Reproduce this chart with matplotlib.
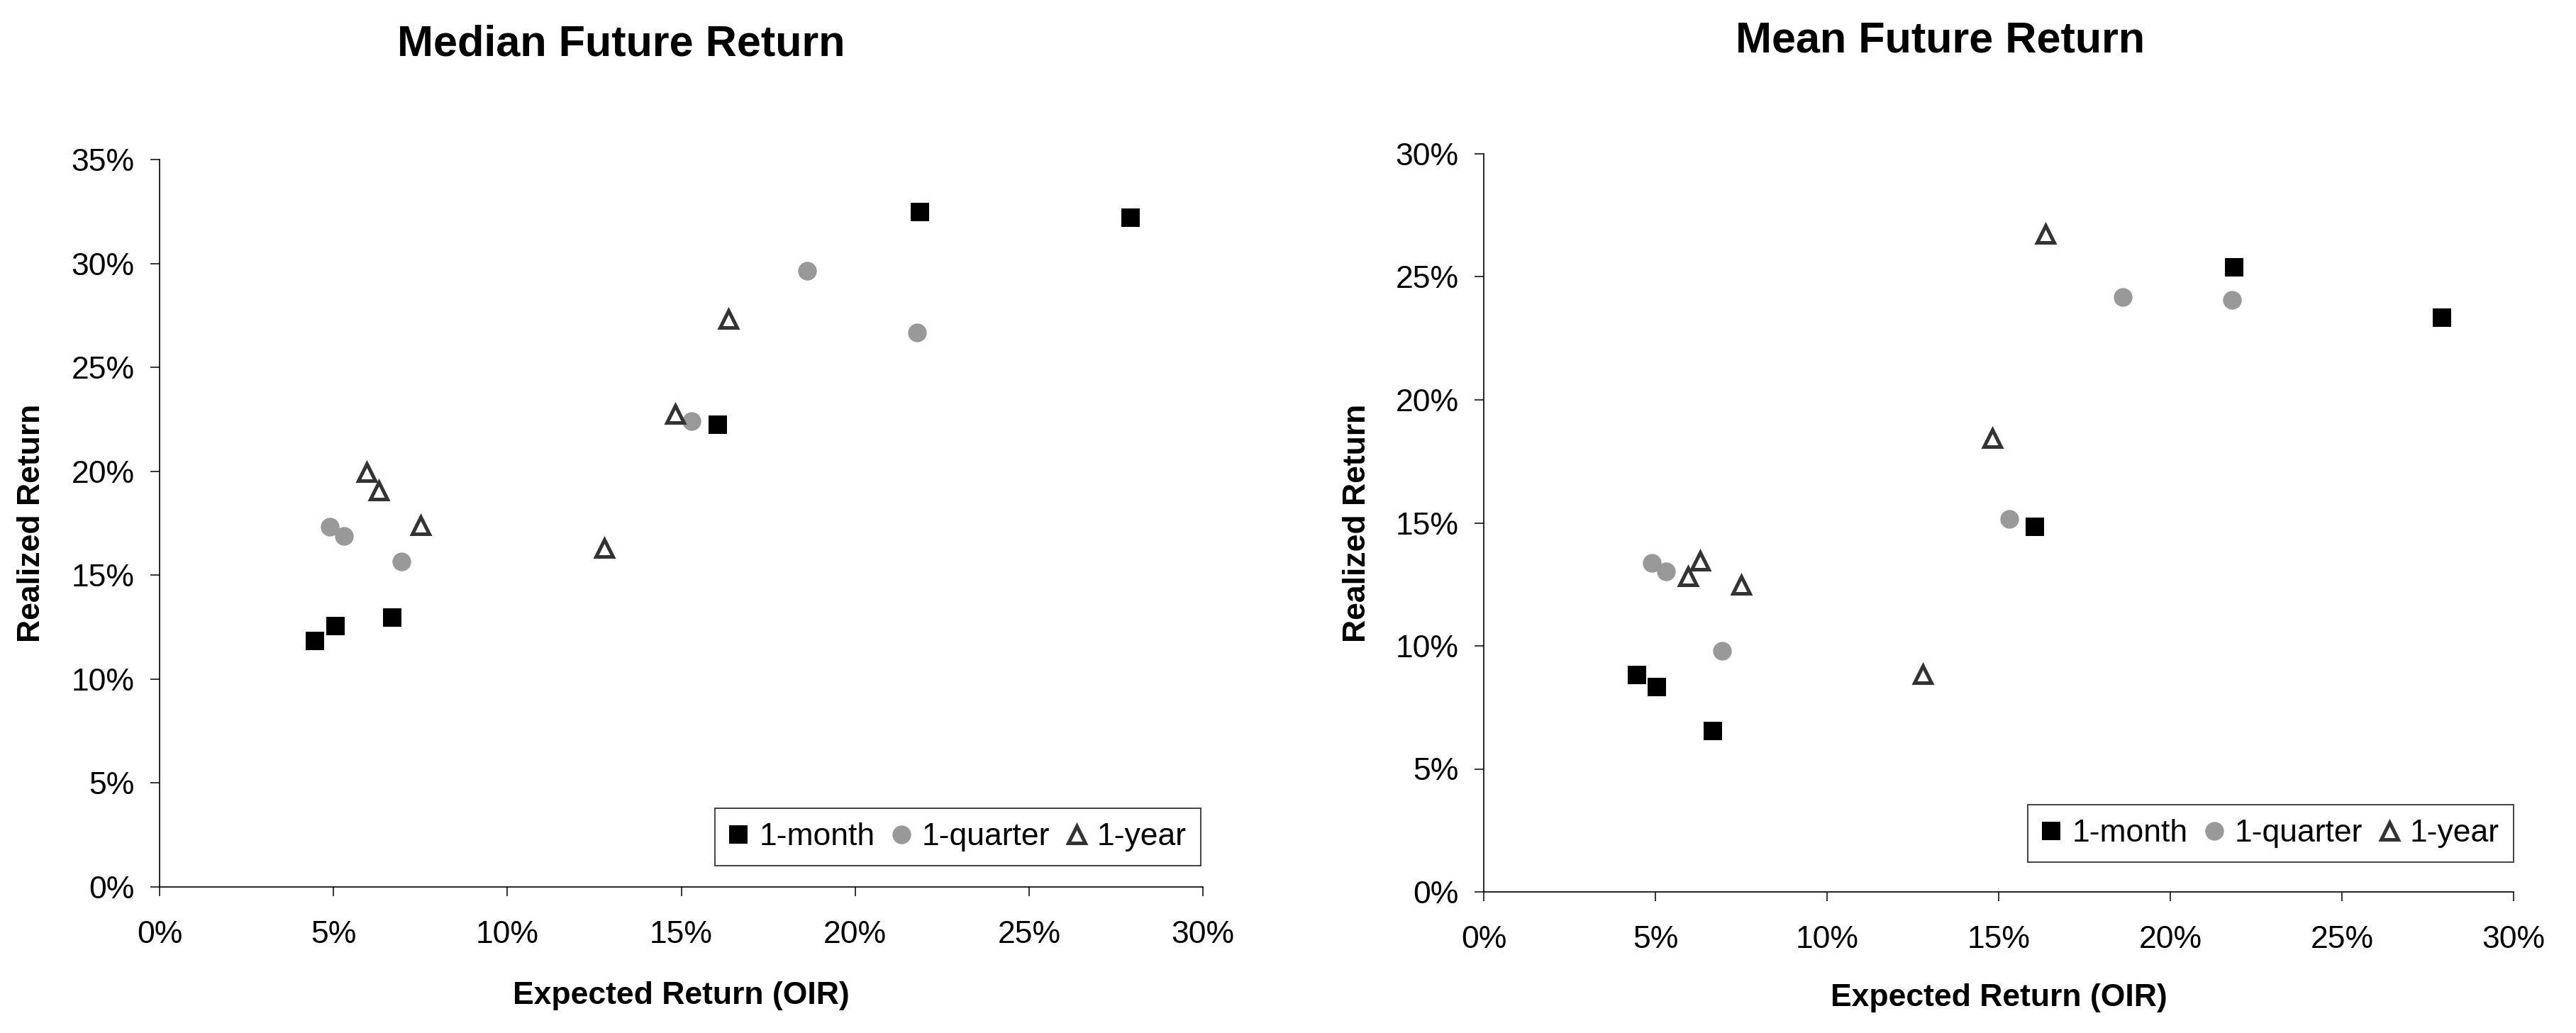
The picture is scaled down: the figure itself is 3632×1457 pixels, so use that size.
import matplotlib
matplotlib.use('Agg')
import matplotlib.pyplot as plt
from matplotlib.ticker import MultipleLocator, FuncFormatter

plt.rcParams['font.family'] = ['Liberation Sans', 'DejaVu Sans']

#####  Data (percent)  #####
# expected return (OIR), same in both panels
x_month = [4.46, 5.05, 6.68, 16.06, 21.86, 27.91]
x_quarter = [4.89, 5.31, 6.95, 15.30, 18.62, 21.79]
x_year = [5.95, 6.30, 7.50, 12.78, 14.82, 16.36]

median_month = [11.83, 12.56, 12.97, 22.25, 32.47, 32.19]
median_quarter = [17.32, 16.88, 15.65, 22.40, 29.66, 26.66]
median_year = [19.94, 19.06, 17.39, 16.31, 22.75, 27.33]

mean_month = [8.82, 8.34, 6.55, 14.84, 25.40, 23.34]
mean_quarter = [13.37, 13.02, 9.79, 15.16, 24.17, 24.06]
mean_year = [12.83, 13.45, 12.49, 8.85, 18.45, 26.74]

series_names = ['1-month', '1-quarter', '1-year']
titles = ['Median Future Return', 'Mean Future Return']

W, H = 3632, 1457
fig = plt.figure(figsize=(W / 100, H / 100), dpi=100)

# axes boxes in pixels: left, top, right, bottom
boxes = [(225, 225, 1696, 1251), (2092, 217, 3544, 1258)]
ymax = [35, 30]
panels = [(median_month, median_quarter, median_year),
          (mean_month, mean_quarter, mean_year)]
legend_anchor = [(0.998, 0.029), (1.0, 0.040)]
xlab_y = [-0.150, -0.144]
title_pos = [(876, 63), (2736, 58)]

pct = FuncFormatter(lambda v, p: '%d%%' % round(v))

for i in range(2):
    l, t, r, b = boxes[i]
    ax = fig.add_axes([l / W, 1 - b / H, (r - l) / W, (b - t) / H])
    ym, yq, yy = panels[i]
    ax.plot(x_month, ym, 's', color='black', ms=19, mec='black', mew=0,
            label=series_names[0])
    ax.plot(x_quarter, yq, 'o', color='#999999', ms=19, mew=0,
            label=series_names[1])
    ax.plot(x_year, yy, '^', mfc='white', mec='#333333', ms=17, mew=3.6,
            label=series_names[2])

    ax.set_xlim(0, 30)
    ax.set_ylim(0, ymax[i])
    ax.xaxis.set_major_locator(MultipleLocator(5))
    ax.yaxis.set_major_locator(MultipleLocator(5))
    ax.xaxis.set_major_formatter(pct)
    ax.yaxis.set_major_formatter(pct)
    for s in ['top', 'right']:
        ax.spines[s].set_visible(False)
    for s in ['left', 'bottom']:
        ax.spines[s].set_linewidth(1.2)
    ax.tick_params(axis='both', direction='out', length=9.5, width=1.1,
                   labelsize=32)
    ax.tick_params(axis='x', pad=24)
    ax.tick_params(axis='y', pad=16)

    ax.set_xlabel('Expected Return (OIR)', fontsize=32, fontweight='bold')
    ax.set_ylabel('Realized Return', fontsize=32, fontweight='bold')
    ax.xaxis.set_label_coords(0.5, xlab_y[i])
    ax.xaxis.label.set_va('center')
    ax.yaxis.set_label_coords(-0.123, 0.5)
    ax.yaxis.label.set_va('center')

    leg = ax.legend(loc='lower right', bbox_to_anchor=legend_anchor[i],
                    ncol=3, fontsize=32, frameon=True, fancybox=False,
                    borderaxespad=0, borderpad=0.45, handlelength=0.6,
                    handletextpad=0.35, columnspacing=0.55, markerscale=1)
    leg.get_frame().set_edgecolor('black')
    leg.get_frame().set_linewidth(1.3)

    fig.text(title_pos[i][0] / W, 1 - title_pos[i][1] / H, titles[i],
             fontsize=44, fontweight='bold', ha='center', va='center')

fig.savefig('out.png', dpi=100, facecolor='white')
